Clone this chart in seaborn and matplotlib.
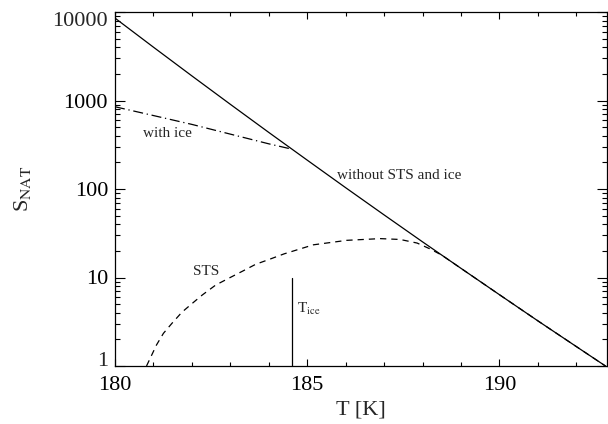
import numpy as np
import pandas as pd
import matplotlib
matplotlib.use("Agg")
import matplotlib.pyplot as plt
from matplotlib.ticker import FixedLocator, NullFormatter, MultipleLocator
import seaborn as sns

# NAT saturation ratio without STS and ice
t_free = [180.0, 181.0, 182.0, 183.0, 184.0, 185.0, 186.0, 187.0, 188.0,
          189.0, 190.0, 191.0, 192.0, 192.76]
s_free = [8530, 4005, 1897, 906, 436, 212, 103.5, 51.0, 25.3,
          12.7, 6.4, 3.24, 1.66, 1.0]

# with ice present (below the ice frost point)
t_ice_curve = [180.0, 181.0, 182.0, 183.0, 184.0, 184.6]
s_ice_curve = [850, 676, 537, 417, 324, 282]

# with STS present
t_sts = [180.82, 181.08, 181.26, 181.48, 181.74, 182.01, 182.27, 182.62,
         182.97, 183.32, 183.66, 184.01, 184.40, 185.16, 186.03, 186.9,
         187.42, 187.86, 188.2, 188.5, 189.0, 190.0, 191.0, 192.0, 192.76]
s_sts = [1.0, 1.73, 2.34, 3.03, 4.05, 5.1, 6.34, 8.22,
         9.86, 11.8, 14.1, 16.0, 18.5, 23.4, 26.3, 27.5,
         26.9, 24.5, 21.0, 17.9, 12.7, 6.4, 3.24, 1.66, 1.0]

# ice frost point marker
t_frost = [184.6, 184.6]
s_frost = [1.0, 10.0]

y_ticks = [1, 10, 100, 1000, 10000]
y_tick_labels = ["1", "10", "100", "1000", "10000"]
x_ticks = [180, 185, 190]

sns.set_style("ticks")
plt.rcParams["font.family"] = ["Liberation Serif", "DejaVu Serif"]
plt.rcParams["mathtext.fontset"] = "stix"

fig = plt.figure(figsize=(6.08, 4.24), dpi=100)
ax = fig.add_axes([115 / 608, 58 / 424, 492 / 608, 354 / 424])

lw = 0.9
free = pd.DataFrame({"T": t_free, "S": s_free})
ice = pd.DataFrame({"T": t_ice_curve, "S": s_ice_curve})
sts = pd.DataFrame({"T": t_sts, "S": s_sts})
frost = pd.DataFrame({"T": t_frost, "S": s_frost})

sns.lineplot(data=free, x="T", y="S", ax=ax, color="black", lw=lw,
             sort=False, estimator=None)
sns.lineplot(data=ice, x="T", y="S", ax=ax, color="black", lw=lw,
             sort=False, estimator=None, linestyle=(0, (8, 3, 1, 3)))
sns.lineplot(data=sts, x="T", y="S", ax=ax, color="black", lw=lw,
             sort=False, estimator=None, linestyle=(0, (5, 4)))
sns.lineplot(data=frost, x="T", y="S", ax=ax, color="black", lw=lw,
             sort=False, estimator=None)

ax.set_yscale("log")
ax.set_xlim(180, 192.8)
ax.set_ylim(1, 10000)

ax.xaxis.set_major_locator(FixedLocator(x_ticks))
ax.xaxis.set_minor_locator(MultipleLocator(1))
ax.set_xticklabels([str(v) for v in x_ticks])
ax.yaxis.set_major_locator(FixedLocator(y_ticks))
# end decades are labelled separately so they stay clear of the corners
ax.set_yticklabels([""] + y_tick_labels[1:-1] + [""])
ax.yaxis.set_minor_formatter(NullFormatter())

ax.tick_params(which="both", direction="in", top=True, right=True,
               width=0.8, colors="black", labelsize=16)
ax.tick_params(axis="x", which="major", length=5, pad=7)
ax.tick_params(axis="x", which="minor", length=3)
ax.tick_params(axis="y", which="major", length=7.5, pad=5)
ax.tick_params(axis="y", which="minor", length=3.6)
for sp in ax.spines.values():
    sp.set_linewidth(0.9)
    sp.set_color("black")

ax.annotate(y_tick_labels[-1], xy=(0, y_ticks[-1]),
            xycoords=("axes fraction", "data"),
            xytext=(-7, -10), textcoords="offset pixels",
            ha="right", va="center", fontsize=16)
ax.annotate(y_tick_labels[0], xy=(0, y_ticks[0]),
            xycoords=("axes fraction", "data"),
            xytext=(-7, 0), textcoords="offset pixels",
            ha="right", va="baseline", fontsize=16)

ax.set_xlabel("T [K]", fontsize=16, labelpad=4)
ax.set_ylabel(r"S$_{\rm NAT}$", fontsize=16, labelpad=22)

ax.text(180.74, 390, "with ice", fontsize=11, ha="left", va="baseline")
ax.text(185.77, 129, "without STS and ice", fontsize=11, ha="left",
        va="baseline")
ax.text(182.04, 10.7, "STS", fontsize=11, ha="left", va="baseline")
ax.text(184.73, 3.94, r"T$_{\rm ice}$", fontsize=11, ha="left",
        va="baseline")

fig.savefig("out.png", dpi=100)
